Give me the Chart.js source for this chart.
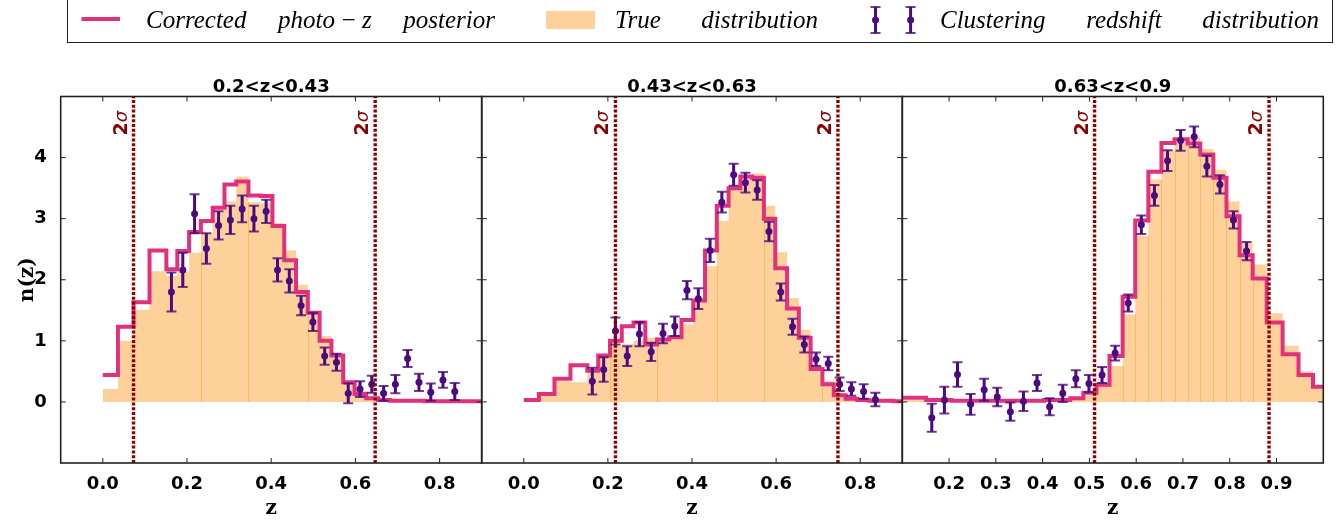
<!DOCTYPE html>
<html>
<head>
<meta charset="utf-8">
<script src="https://cdn.jsdelivr.net/npm/chart.js@4.4.1/dist/chart.umd.min.js"></script>
<style>
  html, body { margin: 0; padding: 0; background: #fff; }
  #wrap { position: relative; width: 1343px; height: 522px; overflow: hidden; }
  #wrap canvas { position: absolute; left: 0; top: 0; }
  .lg-box { position: absolute; left: 66.5px; top: -2px; width: 1266px; height: 45px; box-sizing: border-box; border: 1px solid #222; border-bottom-width: 1.5px; }
  .lg-text { position: absolute; top: 7px; font: italic 25px "Liberation Serif", serif; line-height: 25px; white-space: pre; color: #000; }
</style>
</head>
<body>
<div id="wrap">
  <canvas id="c1" width="1343" height="522"></canvas>
  <canvas id="c2" width="1343" height="522"></canvas>
  <canvas id="c3" width="1343" height="522"></canvas>
</div>
<script>
'use strict';

// ---- data ----
var binEdges = [0.000, 0.036, 0.073, 0.111, 0.151, 0.177, 0.205, 0.233, 0.261, 0.289,
                0.317, 0.346, 0.375, 0.403, 0.431, 0.459, 0.487, 0.515, 0.543, 0.571,
                0.598, 0.626, 0.654, 0.682, 0.710, 0.737, 0.765, 0.793, 0.821, 0.849,
                0.879, 0.913, 0.947, 0.978, 1.010];
var pointZ = [0.163, 0.190, 0.218, 0.246, 0.275, 0.303, 0.331, 0.359, 0.388, 0.415,
              0.443, 0.471, 0.499, 0.527, 0.555, 0.583, 0.611, 0.639, 0.667, 0.695,
              0.724, 0.751, 0.779, 0.808, 0.836];

var panelTitles = ['0.2<z<0.43', '0.43<z<0.63', '0.63<z<0.9'];
var seriesNames = ['Corrected photo\u2009\u2212\u2009z posterior', 'True distribution', 'Clustering redshift distribution'];

var xTicksLow = [0.0, 0.2, 0.4, 0.6, 0.8];
var xTicksHigh = [0.2, 0.3, 0.4, 0.5, 0.6, 0.7, 0.8, 0.9];
var yTicks = [0, 1, 2, 3, 4];

// panel 1
var trueP1 = [0.21, 1.00, 1.51, 2.14, 2.06, 2.14, 2.44, 2.76, 3.12, 3.28,
              3.69, 3.27, 3.25, 2.93, 2.48, 1.92, 1.49, 1.08, 0.78, 0.34,
              0.18, 0.04, 0.01, 0, 0, 0, 0, 0, 0, 0, 0, 0, 0, 0];
var postP1 = [0.44, 1.23, 1.63, 2.48, 2.17, 2.47, 2.78, 2.96, 3.18, 3.56,
              3.61, 3.38, 3.37, 2.88, 2.32, 1.80, 1.46, 1.00, 0.76, 0.32,
              0.13, 0.06, 0.03, 0.02, 0.02, 0.02, 0.01, 0.01, 0.01, 0.01, 0.01, 0.01, 0.01, 0.01];
var czP1 = [1.80, 2.16, 3.08, 2.51, 2.89, 2.98, 3.16, 3.00, 3.12, 2.16, 1.98, 1.58, 1.31,
            0.75, 0.65, 0.14, 0.21, 0.29, 0.14, 0.29, 0.71, 0.32, 0.16, 0.36, 0.17];
var errP1 = [0.32, 0.28, 0.32, 0.25, 0.23, 0.23, 0.22, 0.21, 0.19, 0.19, 0.19, 0.16, 0.15,
             0.14, 0.14, 0.16, 0.13, 0.14, 0.12, 0.15, 0.14, 0.14, 0.14, 0.13, 0.14];
var sigmaP1 = [0.073, 0.647];
var seamsP1 = [7, 11, 16];   // bin edges where the bars show a seam

// panel 2
var trueP2 = [0.01, 0.10, 0.34, 0.32, 0.48, 0.75, 0.92, 0.95, 1.00, 1.05,
              1.05, 1.08, 1.27, 1.65, 2.22, 2.96, 3.50, 3.67, 3.74, 3.21,
              2.45, 1.70, 1.18, 0.60, 0.34, 0.15, 0.07, 0.02, 0, 0, 0, 0, 0, 0];
var postP2 = [0.03, 0.13, 0.38, 0.60, 0.51, 0.76, 1.00, 1.24, 1.30, 0.94,
              1.02, 1.06, 1.34, 1.66, 2.48, 3.21, 3.50, 3.69, 3.67, 3.00,
              2.19, 1.53, 1.05, 0.54, 0.29, 0.11, 0.05, 0.03, 0.02, 0.02, 0.01, 0.01, 0.01, 0.01];
var czP2 = [0.34, 0.53, 1.16, 0.75, 1.11, 0.82, 1.12, 1.24, 1.83, 1.69, 2.48, 3.27, 3.72,
            3.59, 3.47, 2.79, 1.80, 1.23, 0.94, 0.70, 0.63, 0.29, 0.21, 0.17, 0.04];
var errP2 = [0.22, 0.20, 0.22, 0.16, 0.20, 0.15, 0.16, 0.16, 0.15, 0.17, 0.19, 0.17, 0.18,
             0.16, 0.16, 0.16, 0.14, 0.13, 0.13, 0.11, 0.11, 0.11, 0.11, 0.12, 0.11];
var sigmaP2 = [0.218, 0.747];
var seamsP2 = [6, 10, 15, 19, 24];

// panel 3
var trueP3 = [0.03, 0.03, 0.03, 0.03, 0.02, 0.02, 0.02, 0.02, 0.02, 0.02,
              0.02, 0.02, 0.02, 0.02, 0.03, 0.05, 0.11, 0.29, 0.59, 1.43,
              2.72, 3.64, 4.12, 4.26, 4.34, 4.14, 3.80, 3.28, 2.60, 2.25,
              1.45, 0.92, 0.50, 0.26];
var postP3 = [0.07, 0.07, 0.07, 0.07, 0.03, 0.03, 0.02, 0.02, 0.02, 0.02,
              0.02, 0.02, 0.02, 0.03, 0.03, 0.06, 0.15, 0.28, 0.75, 1.72,
              2.97, 3.77, 4.24, 4.30, 4.23, 4.05, 3.67, 3.04, 2.40, 2.02,
              1.30, 0.78, 0.44, 0.25];
var czP3 = [-0.26, 0.03, 0.45, -0.04, 0.20, 0.08, -0.16, 0.01, 0.31, -0.08, 0.14, 0.38, 0.30,
            0.44, 0.80, 1.62, 2.90, 3.38, 3.95, 4.28, 4.34, 3.86, 3.56, 2.98, 2.47];
var errP3 = [0.23, 0.22, 0.20, 0.17, 0.18, 0.15, 0.15, 0.16, 0.13, 0.14, 0.14, 0.14, 0.14,
             0.13, 0.12, 0.14, 0.15, 0.17, 0.17, 0.17, 0.17, 0.17, 0.15, 0.14, 0.15];
var sigmaP3 = [0.511, 0.884];
var seamsP3 = [19, 20, 21, 22, 23, 24, 25, 26, 27, 28, 29];

// ---- styling ----
var PINK = '#e2317c';
var ORANGE = '#fed19b';
var SEAM = '#fbb864';
var PURPLE = '#4b0a80';
var DARKRED = '#8b0000';
var FRAME = '#222';

Chart.defaults.font.family = '"DejaVu Sans", sans-serif';
Chart.defaults.color = '#000';

var nzFigure = function () {
    return {

        init: function () {
            nzFigure.makePanel('c1', {
                title: panelTitles[0], xMin: -0.1, xMax: 0.9, xTicks: xTicksLow, left: 60.7, right: 481.7,
                truth: trueP1, post: postP1, cz: czP1, err: errP1, sigma: sigmaP1, seams: seamsP1, showY: true
            });
            nzFigure.makePanel('c2', {
                title: panelTitles[1], xMin: -0.1, xMax: 0.9, xTicks: xTicksLow, left: 481.7, right: 902.3,
                truth: trueP2, post: postP2, cz: czP2, err: errP2, sigma: sigmaP2, seams: seamsP2, showY: false
            });
            nzFigure.makePanel('c3', {
                title: panelTitles[2], xMin: 0.1, xMax: 1.0, xTicks: xTicksHigh, left: 902.3, right: 1323.3,
                truth: trueP3, post: postP3, cz: czP3, err: errP3, sigma: sigmaP3, seams: seamsP3, showY: false
            });
            nzFigure.makeLegend();
        },

        stepData: function (vals) {
            var pts = vals.map(function (v, i) { return { x: binEdges[i], y: v }; });
            pts.push({ x: binEdges[vals.length], y: vals[vals.length - 1] });
            return pts;
        },

        // frame + inward ticks on all four sides
        framePlugin: {
            id: 'frame',
            afterDraw: function (chart, args, opts) {
                var a = chart.chartArea, ctx = chart.ctx;
                var xs = chart.scales.x, ys = chart.scales.y;
                ctx.save();
                ctx.strokeStyle = FRAME;
                ctx.lineWidth = 1;
                ctx.beginPath();
                opts.xTicks.forEach(function (v) {
                    var px = xs.getPixelForValue(v);
                    ctx.moveTo(px, a.bottom); ctx.lineTo(px, a.bottom - 5);
                    ctx.moveTo(px, a.top); ctx.lineTo(px, a.top + 5);
                });
                yTicks.forEach(function (v) {
                    var py = ys.getPixelForValue(v);
                    ctx.moveTo(a.left, py); ctx.lineTo(a.left + 5, py);
                    ctx.moveTo(a.right, py); ctx.lineTo(a.right - 5, py);
                });
                ctx.stroke();
                ctx.lineWidth = 1.6;
                ctx.strokeRect(a.left, a.top, a.right - a.left, a.bottom - a.top);
                ctx.restore();
            }
        },

        // error bars under the clustering-z markers, thin seams on the true bars
        errorPlugin: {
            id: 'errbars',
            beforeDatasetDraw: function (chart, args) {
                var ds = chart.data.datasets[args.index];
                if (!ds.errors) return;
                var a = chart.chartArea, ctx = chart.ctx;
                var xs = chart.scales.x, ys = chart.scales.y;
                ctx.save();
                ctx.beginPath();
                ctx.rect(a.left, a.top, a.right - a.left, a.bottom - a.top);
                ctx.clip();
                ds.data.forEach(function (p, i) {
                    var px = xs.getPixelForValue(p.x);
                    var y1 = ys.getPixelForValue(p.y + ds.errors[i]);
                    var y2 = ys.getPixelForValue(p.y - ds.errors[i]);
                    ctx.strokeStyle = PURPLE;
                    ctx.lineWidth = 3;
                    ctx.beginPath();
                    ctx.moveTo(px, y1); ctx.lineTo(px, y2);
                    ctx.stroke();
                    ctx.strokeStyle = 'rgba(75,10,128,0.8)';
                    ctx.lineWidth = 2;
                    ctx.beginPath();
                    ctx.moveTo(px - 5, y1); ctx.lineTo(px + 5, y1);
                    ctx.moveTo(px - 5, y2); ctx.lineTo(px + 5, y2);
                    ctx.stroke();
                });
                ctx.restore();
            },
            afterDatasetDraw: function (chart, args) {
                var ds = chart.data.datasets[args.index];
                if (!ds.seams) return;
                var ctx = chart.ctx, xs = chart.scales.x, ys = chart.scales.y;
                var y0 = ys.getPixelForValue(0);
                ctx.save();
                ctx.strokeStyle = SEAM;
                ctx.lineWidth = 1;
                ctx.beginPath();
                ds.seams.forEach(function (k) {
                    var px = Math.round(xs.getPixelForValue(binEdges[k])) + 0.5;
                    var h = Math.min(ds.values[k - 1], ds.values[k]);
                    ctx.moveTo(px, y0);
                    ctx.lineTo(px, ys.getPixelForValue(h));
                });
                ctx.stroke();
                ctx.restore();
            }
        },

        // rotated "2σ" tags next to the dotted lines
        sigmaPlugin: {
            id: 'sigmaTags',
            afterDatasetsDraw: function (chart, args, opts) {
                var a = chart.chartArea, ctx = chart.ctx, xs = chart.scales.x;
                ctx.save();
                ctx.fillStyle = DARKRED;
                ctx.textBaseline = 'alphabetic';
                opts.values.forEach(function (v) {
                    var px = xs.getPixelForValue(v) - 7;
                    ctx.save();
                    ctx.translate(px, a.top + 39);
                    ctx.rotate(-Math.PI / 2);
                    ctx.font = 'bold 19px "DejaVu Sans"';
                    ctx.fillText('2', 0, 0);
                    var w = ctx.measureText('2').width;
                    ctx.font = 'italic 18px "DejaVu Sans"';
                    ctx.fillText('\u03c3', w, 0);
                    ctx.restore();
                });
                ctx.restore();
            }
        },

        makePanel: function (id, p) {
            var W = 1343;
            var datasets = [];
            p.sigma.forEach(function (v) {
                datasets.push({
                    data: [{ x: v, y: -1 }, { x: v, y: 5 }],
                    borderColor: DARKRED, borderWidth: 3.4, borderDash: [3, 1.8],
                    pointRadius: 0, fill: false, clip: 0
                });
            });
            datasets.push({
                label: seriesNames[2],
                data: pointZ.map(function (z, i) { return { x: z, y: p.cz[i] }; }),
                errors: p.err,
                showLine: false, pointRadius: 3.5, pointBackgroundColor: PURPLE,
                pointBorderWidth: 0, clip: 0
            });
            datasets.push({
                label: seriesNames[0],
                data: nzFigure.stepData(p.post),
                stepped: true, borderColor: PINK, borderWidth: 4,
                pointRadius: 0, fill: false, clip: 0
            });
            datasets.push({
                label: seriesNames[1],
                data: nzFigure.stepData(p.truth),
                values: p.truth, seams: p.seams,
                stepped: true, borderWidth: 0, borderColor: 'rgba(0,0,0,0)',
                backgroundColor: ORANGE, fill: 'origin', pointRadius: 0, clip: 0
            });

            new Chart(document.getElementById(id), {
                type: 'line',
                data: { datasets: datasets },
                options: {
                    responsive: false,
                    animation: false,
                    devicePixelRatio: 1,
                    events: [],
                    layout: { padding: { left: p.showY ? 0 : p.left, right: W - p.right, top: 78.5, bottom: 0 } },
                    plugins: {
                        legend: { display: false },
                        tooltip: { enabled: false },
                        title: {
                            display: true, text: p.title, fullSize: false, padding: 0,
                            color: '#000', font: { size: 18, weight: 'bold', lineHeight: 1 }
                        },
                        frame: { xTicks: p.xTicks },
                        sigmaTags: { values: p.sigma }
                    },
                    scales: {
                        x: {
                            type: 'linear', min: p.xMin, max: p.xMax,
                            afterBuildTicks: function (s) { s.ticks = p.xTicks.map(function (v) { return { value: v }; }); },
                            afterFit: function (s) { s.height = 59; },
                            grid: { display: false },
                            border: { display: false },
                            ticks: {
                                padding: 3, autoSkip: false, maxRotation: 0,
                                font: { size: 18, weight: 'bold' },
                                callback: function (v) { return Number(v).toFixed(1); }
                            },
                            title: {
                                display: true, text: 'z', padding: { top: 0, bottom: 1 },
                                font: { family: '"DejaVu Serif", serif', size: 20, weight: 'bold' }
                            }
                        },
                        y: {
                            type: 'linear', min: -1, max: 5, display: p.showY,
                            afterBuildTicks: function (s) { s.ticks = yTicks.map(function (v) { return { value: v }; }); },
                            afterFit: function (s) { s.width = p.showY ? p.left : 0; },
                            grid: { display: false },
                            border: { display: false },
                            ticks: { padding: 6, font: { size: 18, weight: 'bold' } },
                            title: {
                                display: true, text: 'n(z)', padding: { top: 16, bottom: 0 },
                                font: { family: '"DejaVu Serif", serif', size: 20, weight: 'bold' }
                            }
                        }
                    }
                },
                plugins: [nzFigure.framePlugin, nzFigure.errorPlugin, nzFigure.sigmaPlugin]
            });
        },

        makeLegend: function () {
            var wrap = document.getElementById('wrap');
            var box = document.createElement('div');
            box.className = 'lg-box';
            wrap.appendChild(box);

            var svgNS = 'http://www.w3.org/2000/svg';
            var svg = document.createElementNS(svgNS, 'svg');
            svg.setAttribute('width', '1343');
            svg.setAttribute('height', '45');
            svg.style.position = 'absolute';
            svg.style.left = '0px';
            svg.style.top = '0px';
            var add = function (tag, attrs) {
                var el = document.createElementNS(svgNS, tag);
                Object.keys(attrs).forEach(function (k) { el.setAttribute(k, attrs[k]); });
                svg.appendChild(el);
            };
            add('line', { x1: 81.5, y1: 19, x2: 120, y2: 19, stroke: PINK, 'stroke-width': 4 });
            add('rect', { x: 546, y: 11, width: 49, height: 18, fill: ORANGE });
            [875.5, 910.6].forEach(function (cx) {
                add('line', { x1: cx, y1: 7, x2: cx, y2: 33, stroke: PURPLE, 'stroke-width': 3 });
                add('line', { x1: cx - 5, y1: 7, x2: cx + 5, y2: 7, stroke: PURPLE, 'stroke-width': 2, 'stroke-opacity': 0.8 });
                add('line', { x1: cx - 5, y1: 33, x2: cx + 5, y2: 33, stroke: PURPLE, 'stroke-width': 2, 'stroke-opacity': 0.8 });
                add('circle', { cx: cx, cy: 20, r: 3.5, fill: PURPLE });
            });
            wrap.appendChild(svg);

            var spans = [[146, 495], [615, 818], [940, 1319]];
            var els = seriesNames.map(function (name, i) {
                var s = document.createElement('span');
                s.className = 'lg-text';
                s.textContent = name;
                s.style.left = spans[i][0] + 'px';
                wrap.appendChild(s);
                return s;
            });
            var fit = function () {
                els.forEach(function (s, i) {
                    s.style.wordSpacing = '0px';
                    var nat = s.getBoundingClientRect().width;
                    var gaps = (s.textContent.match(/ /g) || []).length;
                    if (gaps) s.style.wordSpacing = ((spans[i][1] - spans[i][0] - nat) / gaps) + 'px';
                });
            };
            fit();
            if (document.fonts && document.fonts.ready) document.fonts.ready.then(fit);
        }

    };
}();

nzFigure.init();
</script>
</body>
</html>
